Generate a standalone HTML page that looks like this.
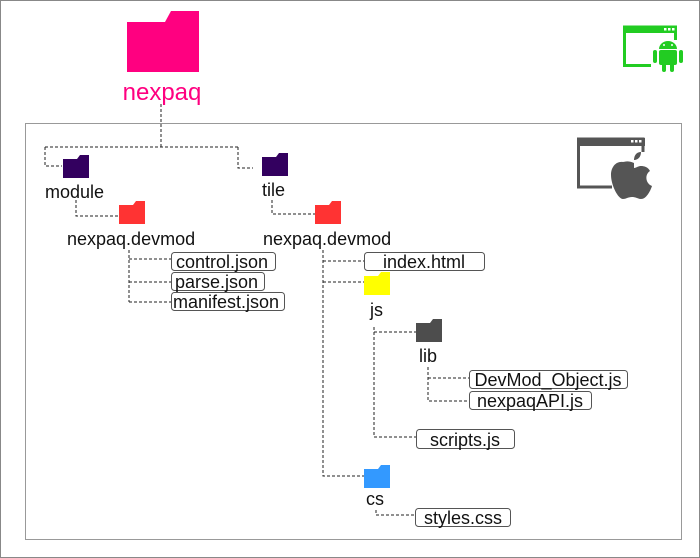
<!DOCTYPE html>
<html><head><meta charset="utf-8"><style>
html,body{margin:0;padding:0;background:#fff}
svg{display:block}
text{font-family:"Liberation Sans",sans-serif;fill:#111}
.d{stroke:#222;stroke-width:1;stroke-dasharray:3,2;fill:none}
.b{fill:#fff;stroke:#555;stroke-width:1}
</style></head><body>
<svg width="700" height="558" viewBox="0 0 700 558">
<rect x="0.5" y="0.5" width="699" height="557" fill="#fff" stroke="#888"/>
<rect x="25.5" y="123.5" width="656" height="416" fill="none" stroke="#999"/>
<defs>
<g id="f"><rect x="0" y="4" width="26" height="19"/><path d="M14 4 L17 0 H26 V4 Z"/></g>
</defs>
<rect x="127" y="22" width="72" height="50" fill="#ff0080"/>
<path d="M165 22 L171 11 H199 V22 Z" fill="#ff0080"/>
<text x="162" y="100" font-size="24" text-anchor="middle" style="fill:#ff0080">nexpaq</text>
<!-- android -->
<g fill="none" stroke="#22cc22" stroke-width="3">
<path d="M651 65.5 H624.5 V27 H675.5 V40"/></g>
<rect x="623" y="26" width="54" height="7" fill="#22cc22"/>
<g fill="#fff"><rect x="664" y="28" width="2.5" height="2.5"/><rect x="668" y="28" width="2.5" height="2.5"/><rect x="672" y="28" width="2.5" height="2.5"/></g>
<g fill="#22cc22">
<path d="M659 49 a9 8 0 0 1 18 0 Z"/>
<rect x="659" y="50" width="18" height="15" rx="2"/>
<rect x="653" y="50" width="4" height="13" rx="2"/><rect x="679" y="50" width="4" height="13" rx="2"/>
<rect x="662" y="62" width="4" height="10" rx="2"/><rect x="670" y="62" width="4" height="10" rx="2"/>
</g>
<circle cx="664" cy="45" r="1" fill="#fff"/><circle cx="672" cy="45" r="1" fill="#fff"/>
<!-- apple -->
<g fill="none" stroke="#555" stroke-width="3"><path d="M612 187 H578.5 V139 H643 V152"/></g>
<rect x="577" y="138" width="68" height="8" fill="#555"/>
<g fill="#fff"><rect x="631" y="140" width="2.5" height="2.5"/><rect x="635" y="140" width="2.5" height="2.5"/><rect x="639" y="140" width="2.5" height="2.5"/></g>
<path fill="#555" d="M634 163 c-6-3-10-1-11-1 c-7-1-12 5-12 13 c0 10 7 24 12 24 c3 0 5-2 9-2 c4 0 6 2 9 2 c5 0 9-7 11-13 c-6-2-8-11-2-15 c-2-4-6-5-9-5 c-3 0-5 2-7 2 Z M634 160 c0-5 3-8 7-8 c0 5-3 8-7 8 Z"/>
<!-- connectors -->
<path class="d" d="M161 104 V147 M45 147 H238 M45 147 V166 H62 M238 147 V168 H253"/>
<path class="d" d="M76 200 V216 H119 M272 200 V214 H315"/>
<path class="d" d="M129 250 V302 M129 259 H171 M129 282 H171 M129 302 H171"/>
<path class="d" d="M323 250 V476 H364 M323 261 H364 M323 282 H364"/>
<path class="d" d="M374 327 V437 H416 M374 332 H416"/>
<path class="d" d="M428 367 V401 H469 M428 378 H469"/>
<path class="d" d="M376 510 V515 H415"/>
<use href="#f" x="63" y="155" fill="#33005f"/>
<use href="#f" x="262" y="153" fill="#33005f"/>
<use href="#f" x="119" y="201" fill="#ff3333"/>
<use href="#f" x="315" y="201" fill="#ff3333"/>
<use href="#f" x="364" y="272" fill="#ffff00"/>
<use href="#f" x="416" y="319" fill="#4d4d4d"/>
<use href="#f" x="364" y="465" fill="#3399ff"/>
<g font-size="18">
<text x="45" y="198">module</text>
<text x="262" y="196">tile</text>
<text x="67" y="245">nexpaq.devmod</text>
<text x="263" y="245">nexpaq.devmod</text>
<text x="370" y="316">js</text>
<text x="419" y="362">lib</text>
<text x="366" y="505">cs</text>
</g>
<g font-size="18">
<rect class="b" x="171.5" y="252.5" width="104" height="18" rx="3"/><text x="176" y="268">control.json</text>
<rect class="b" x="171.5" y="272.5" width="93" height="18" rx="3"/><text x="175" y="288">parse.json</text>
<rect class="b" x="171.5" y="292.5" width="113" height="18" rx="3"/><text x="173" y="308">manifest.json</text>
<rect class="b" x="364.5" y="252.5" width="120" height="18" rx="3"/><text x="424" y="268" text-anchor="middle">index.html</text>
<rect class="b" x="469.5" y="370.5" width="158" height="18" rx="3"/><text x="548" y="386" text-anchor="middle">DevMod_Object.js</text>
<rect class="b" x="469.5" y="391.5" width="122" height="18" rx="3"/><text x="530" y="407" text-anchor="middle">nexpaqAPI.js</text>
<rect class="b" x="416.5" y="429.5" width="98" height="19" rx="3"/><text x="465" y="446" text-anchor="middle">scripts.js</text>
<rect class="b" x="415.5" y="508.5" width="95" height="18" rx="3"/><text x="463" y="524" text-anchor="middle">styles.css</text>
</g>
</svg>
</body></html>
